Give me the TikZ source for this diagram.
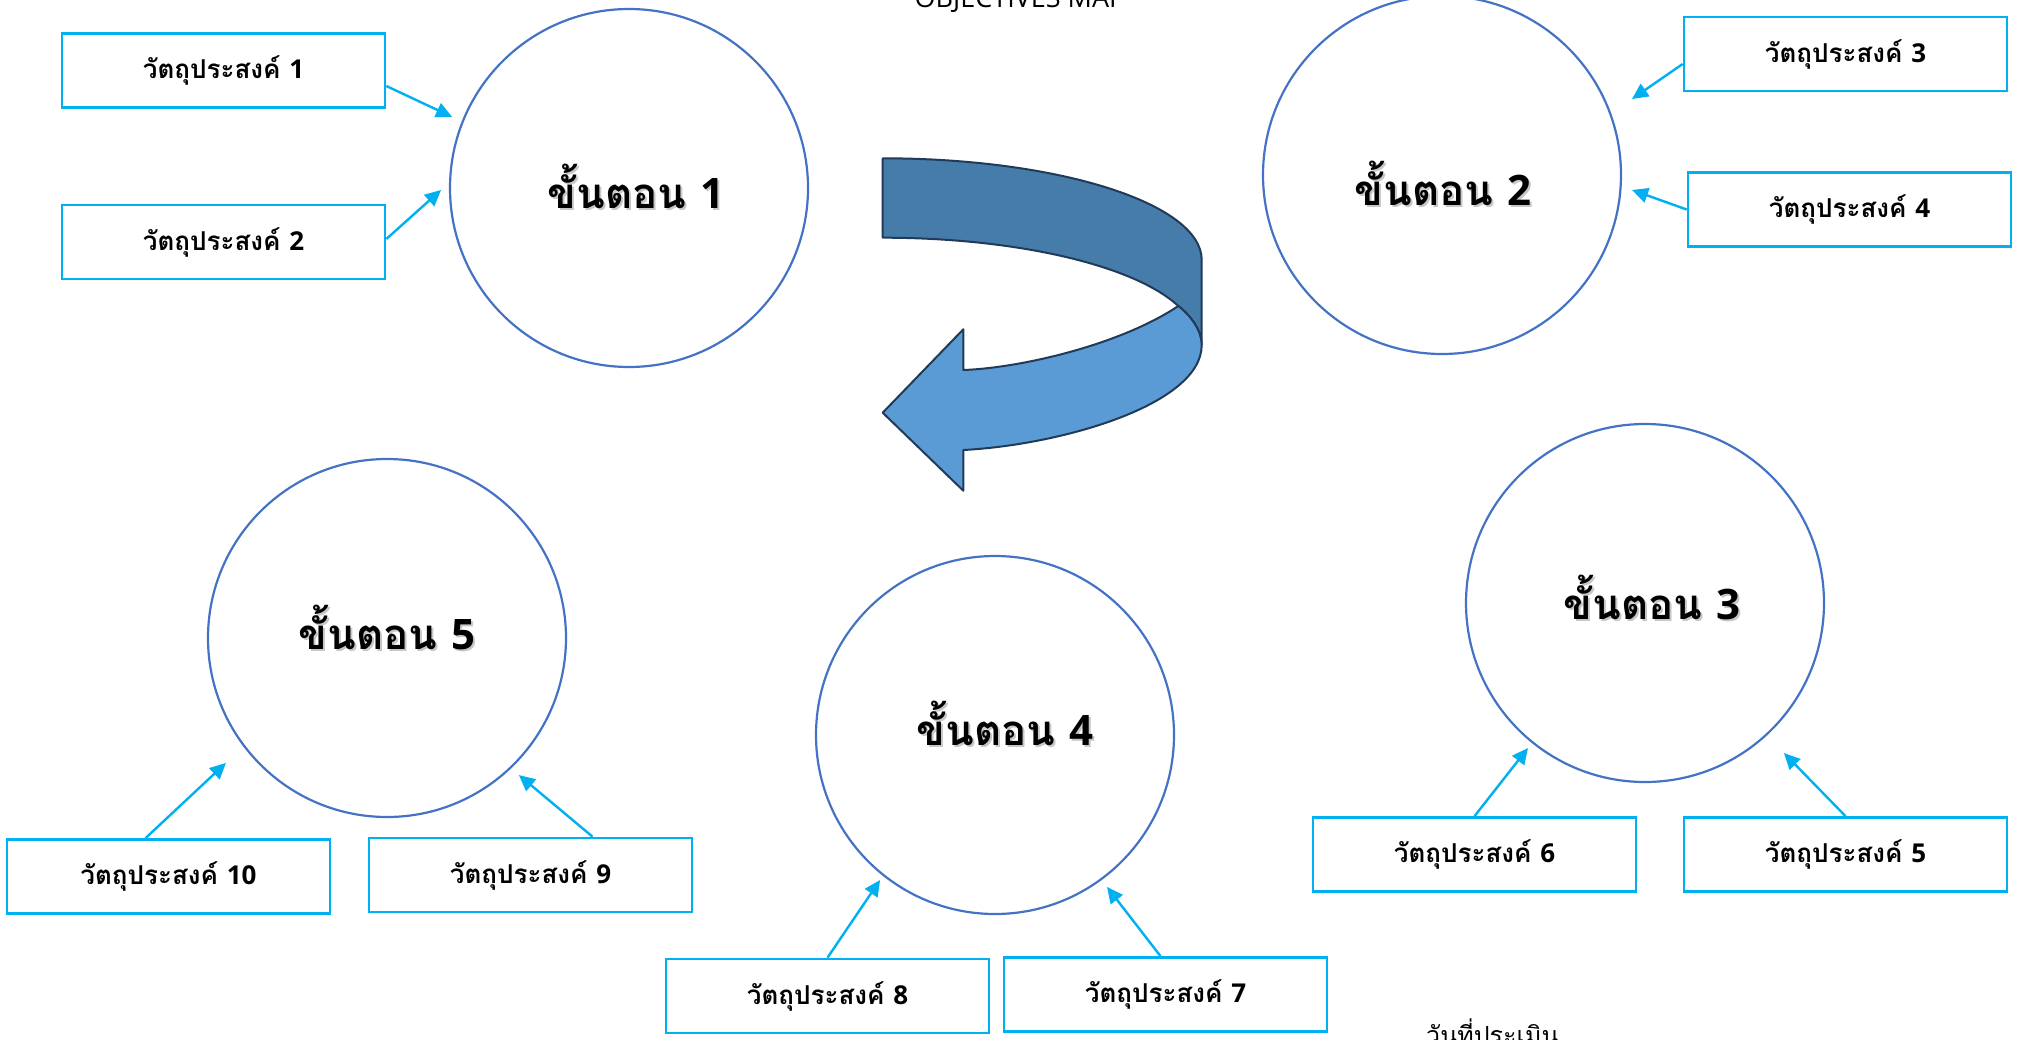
\documentclass[tikz,border=0pt]{standalone}
\usepackage{fontspec}
\newfontfamily\thai[Script=Thai]{Loma}
\newfontfamily\lat{Open Sans}
\usetikzlibrary{arrows.meta,calc}
\definecolor{ringblue}{HTML}{4472C4}
\definecolor{boxcyan}{HTML}{00B0F0}
\definecolor{bandback}{HTML}{467CA9}
\definecolor{bandfront}{HTML}{5B9BD5}
\definecolor{bandline}{HTML}{203A57}
% label with a soft drop shadow
\newcommand\shadowed[1]{\makebox[0pt][l]{\raisebox{-2pt}{\hspace{2pt}\textcolor{black!22}{#1}}}#1}
\newcommand\stagename[1]{\shadowed{ขั้นตอน {\lat\bfseries #1}}}
\newcommand\objname[1]{วัตถุประสงค์ {\lat\bfseries #1}}

\begin{document}
\begin{tikzpicture}[x=1pt,y=-1pt,
  stage/.style={circle,draw=ringblue,line width=2.2pt,minimum size=358pt,inner sep=0pt},
  stagelabel/.style={inner sep=0pt,font=\thai\bfseries\fontsize{42}{48}\selectfont},
  objbox/.style={rectangle,draw=boxcyan,line width=2.7pt,minimum width=323pt,
    minimum height=74pt,inner sep=0pt,font=\thai\bfseries\fontsize{26}{30}\selectfont},
  link/.style={draw=boxcyan,line width=2.4pt,-{Triangle[length=16pt,width=15pt]}},
  band/.style={draw=bandline,line width=2pt,line join=round},
  plain/.style={inner sep=0pt,font=\fontsize{25}{30}\selectfont},
]
\useasboundingbox (0,0) rectangle (2018,1039);
\clip (0,0) rectangle (2018,1039);

% title and date line
\node[plain,font=\lat\fontsize{27}{32}\selectfont,anchor=base] (title) at (1020,7) {OBJECTIVES MAP};
\node[plain,font=\thai\fontsize{25}{30}\selectfont,anchor=base west] (date) at (1426,1044) {วันที่ประเมิน};

% stages
\node[stage] (c1) at (629,188) {};
\node[stage] (c2) at (1442,175) {};
\node[stage] (c3) at (1645,603) {};
\node[stage] (c4) at (995,735) {};
\node[stage] (c5) at (387,638) {};

\node[stagelabel] (s1) at (636,187) {\stagename{1}};
\node[stagelabel] (s2) at (1443,184) {\stagename{2}};
\node[stagelabel] (s3) at (1652,598) {\stagename{3}};
\node[stagelabel] (s4) at (1005,724) {\stagename{4}};
\node[stagelabel] (s5) at (387,628) {\stagename{5}};

% objectives
\node[objbox] (b1) at (223.5,70.5) {\objname{1}};
\node[objbox] (b2) at (223.5,242) {\objname{2}};
\node[objbox] (b3) at (1845.5,54) {\objname{3}};
\node[objbox] (b4) at (1849.5,209.5) {\objname{4}};
\node[objbox] (b5) at (1845.5,854.5) {\objname{5}};
\node[objbox] (b6) at (1474.5,854.5) {\objname{6}};
\node[objbox] (b7) at (1165.5,994.5) {\objname{7}};
\node[objbox] (b8) at (827.5,996) {\objname{8}};
\node[objbox] (b9) at (530.5,875) {\objname{9}};
\node[objbox] (b10) at (168.5,876.5) {\objname{10}};

% objective -> stage links
\draw[link] ($(b1.east)+(0,15.5)$) -- ($(c1)+(201.9:190.7)$);
\draw[link] ($(b2.east)+(0,-3)$) -- ($(c1)+(179.4:188)$);
\draw[link] ($(b3.west)+(0,10)$) -- ($(c2)+(-21.8:204.6)$);
\draw[link] (b4.west) -- ($(c2)+(4.5:190.6)$);
\draw[link] (b5.north) -- ($(c3)+(47.2:204.5)$);
\draw[link] (b6.north) -- ($(c3)+(128.9:186.3)$);
\draw[link] ($(b7.north)+(-5,0)$) -- ($(c4)+(53.6:188.8)$);
\draw[link] (b8.north) -- ($(c4)+(128.4:185)$);
\draw[link] ($(b9.north)+(62,0)$) -- ($(c5)+(46.1:190.2)$);
\draw[link] ($(b10.north)+(-23,0)$) -- ($(c5)+(142.2:203.8)$);

% curved ribbon arrow
\coordinate (A) at (882.7,158.3);
\coordinate (B) at (1201.7,260);
\coordinate (C) at (1201.7,345);
\coordinate (D) at (1178.3,306);
\coordinate (E) at (882.7,237.7);
\coordinate (F) at (963.3,370);
\coordinate (G) at (963.3,329.3);
\coordinate (H) at (882.7,412.7);
\coordinate (I) at (963.3,490.7);
\coordinate (J) at (963.3,450);
% back (darker) part of the ribbon
\path[band,fill=bandback] (A) .. controls (1058.5,158.3) and (1201.7,203.7) .. (B) -- (C)
  .. controls (1201.7,330) and (1190,315) .. (D)
  .. controls (1134.4,265.2) and (1016,237.7) .. (E) -- cycle;
% front part with the head
\path[band,fill=bandfront] (D) .. controls (1120,345) and (1020,368) .. (F)
  -- (G) -- (H) -- (I) -- (J)
  .. controls (1060,445) and (1201.7,405) .. (C)
  .. controls (1201.7,330) and (1190,315) .. (D) -- cycle;
\end{tikzpicture}
\end{document}
